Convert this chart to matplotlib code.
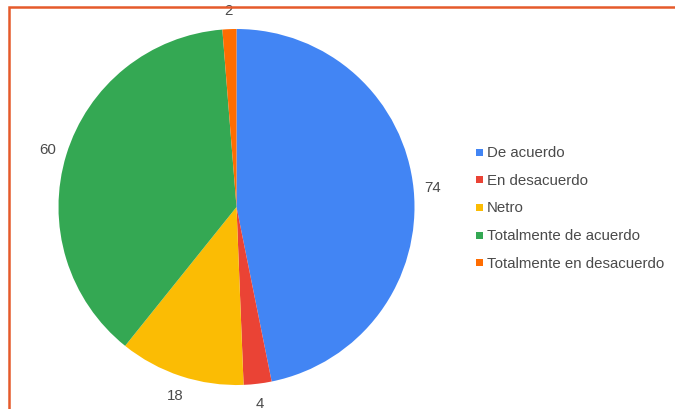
import matplotlib
matplotlib.use("Agg")
import matplotlib.pyplot as plt
from matplotlib.patches import Rectangle

categories = ["De acuerdo", "En desacuerdo", "Netro", "Totalmente de acuerdo", "Totalmente en desacuerdo"]
values = [74, 4, 18, 60, 2]
colors = ["#4285F4", "#EA4335", "#FBBC04", "#34A853", "#FF6D01"]

W, H = 675, 410
fig = plt.figure(figsize=(W / 100, H / 100), dpi=100)
fig.patch.set_facecolor("white")
plt.rcParams["font.family"] = ["Liberation Sans", "DejaVu Sans"]

# border (orange-red, top and left visible)
fig.add_artist(Rectangle((9 / W, -0.1), 1.2, (H - 8) / H + 0.1, transform=fig.transFigure,
                         fill=False, edgecolor="#E55A2B", linewidth=1.8))

R = 178.0
cx, cy = 236.5, 410 - 208
a = 1.25
half = R * a
ax = fig.add_axes([(cx - half) / W, (cy - half) / H, 2 * half / W, 2 * half / H])
ax.set_xlim(-a, a)
ax.set_ylim(-a, a)
ax.set_aspect("equal")
ax.axis("off")

wedges, texts = ax.pie(values, colors=colors, startangle=90, counterclock=False,
                       labels=[str(v) for v in values], labeldistance=1.11,
                       radius=1.0, wedgeprops=dict(linewidth=0),
                       textprops=dict(fontsize=10.8, color="#4a4a4a"))
for t in texts:
    t.set_ha("center")
    t.set_va("center")
    t.set_clip_on(False)

# legend
x0, y0, dy = 476, 153, 27.7
for i, (c, lab) in enumerate(zip(colors, categories)):
    y = y0 + i * dy
    fig.add_artist(Rectangle((x0 / W, 1 - (y + 3.5) / H), 7 / W, 7 / H,
                             transform=fig.transFigure, facecolor=c, edgecolor="none"))
    fig.text((x0 + 10.5) / W, 1 - y / H, lab, fontsize=10.8, color="#4a4a4a",
             ha="left", va="center")

fig.savefig("out.png", dpi=100)
